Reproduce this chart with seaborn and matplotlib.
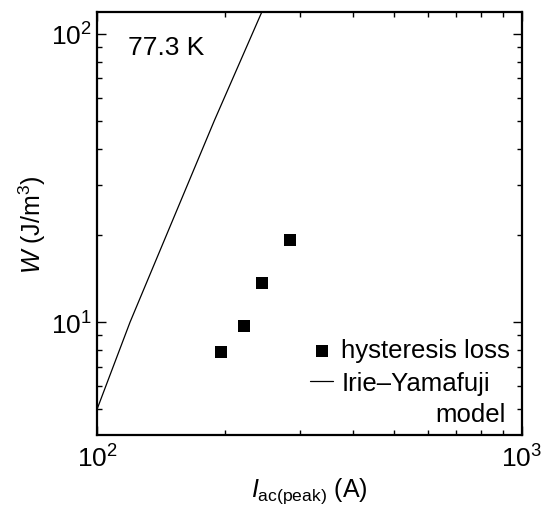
import numpy as np
import pandas as pd
import seaborn as sns
import matplotlib
matplotlib.use("Agg")
import matplotlib.pyplot as plt
from matplotlib.ticker import LogLocator, NullFormatter

# measured hysteresis loss
current = [196, 221.5, 244, 284]
loss = [7.89, 9.68, 13.7, 19.3]
# Irie-Yamafuji model curve
model_current = [100, 119.5, 188.7, 244]
model_loss = [5.0, 10.0, 50.0, 118.9]

x_limits = [100, 1000]
y_limits = [4.07, 118.9]
temp_label = "77.3 K"

sns.set_theme(style="ticks")
plt.rcParams["font.family"] = ["Liberation Sans", "DejaVu Sans"]
plt.rcParams["mathtext.fontset"] = "custom"
plt.rcParams["mathtext.rm"] = "Liberation Sans"
plt.rcParams["mathtext.it"] = "Liberation Sans:italic"
plt.rcParams["mathtext.bf"] = "Liberation Sans:bold"
plt.rcParams["text.color"] = "black"
plt.rcParams["axes.labelcolor"] = "black"
plt.rcParams["xtick.color"] = "black"
plt.rcParams["ytick.color"] = "black"

fig = plt.figure(figsize=(5.46, 5.06), dpi=100)
ax = fig.add_axes([0.178, 0.139, 0.778, 0.835])

df_pts = pd.DataFrame({"I": current, "W": loss})
df_mod = pd.DataFrame({"I": model_current, "W": model_loss})

sns.lineplot(data=df_mod, x="I", y="W", ax=ax, color="black", lw=0.9,
             label="Irie\u2013Yamafuji", sort=False)
sns.scatterplot(data=df_pts, x="I", y="W", ax=ax, marker="s", s=75,
                color="black", edgecolor="none", label="hysteresis loss",
                zorder=3)

ax.set_xscale("log")
ax.set_yscale("log")
ax.set_xlim(*x_limits)
ax.set_ylim(*y_limits)

ax.xaxis.set_major_locator(LogLocator(base=10))
ax.yaxis.set_major_locator(LogLocator(base=10))
ax.xaxis.set_minor_locator(LogLocator(base=10, subs=np.arange(2, 10)))
ax.yaxis.set_minor_locator(LogLocator(base=10, subs=np.arange(2, 10)))
ax.xaxis.set_minor_formatter(NullFormatter())
ax.yaxis.set_minor_formatter(NullFormatter())

ax.tick_params(which="both", direction="in", top=True, right=True,
               labelsize=19, colors="black", width=1.0)
ax.tick_params(which="major", length=6.5)
ax.tick_params(axis="x", which="major", pad=7)
ax.tick_params(axis="y", which="major", pad=4)
ax.tick_params(which="minor", length=3.6)
for s in ax.spines.values():
    s.set_linewidth(1.6)
    s.set_color("black")

ax.set_xlabel(r"$I_{\mathrm{ac(peak)}}$ (A)", fontsize=18, labelpad=3)
ax.set_ylabel(r"$W$ (J/m$^3$)", fontsize=18, labelpad=2)

ax.text(0.073, 0.945, temp_label, transform=ax.transAxes, fontsize=19,
        ha="left", va="top")

handles, labels = ax.get_legend_handles_labels()
order = [labels.index("hysteresis loss"), labels.index("Irie\u2013Yamafuji")]
leg = ax.legend([handles[i] for i in order], [labels[i] for i in order],
                loc="upper right", bbox_to_anchor=(0.972, 0.228),
                frameon=False, fontsize=18.5, handlelength=0.9,
                handletextpad=0.3, labelspacing=0.32, borderpad=0,
                borderaxespad=0)
ax.text(0.962, 0.05, "model", transform=ax.transAxes, fontsize=18.5,
        ha="right", va="center")

fig.savefig("out.png", dpi=100)
